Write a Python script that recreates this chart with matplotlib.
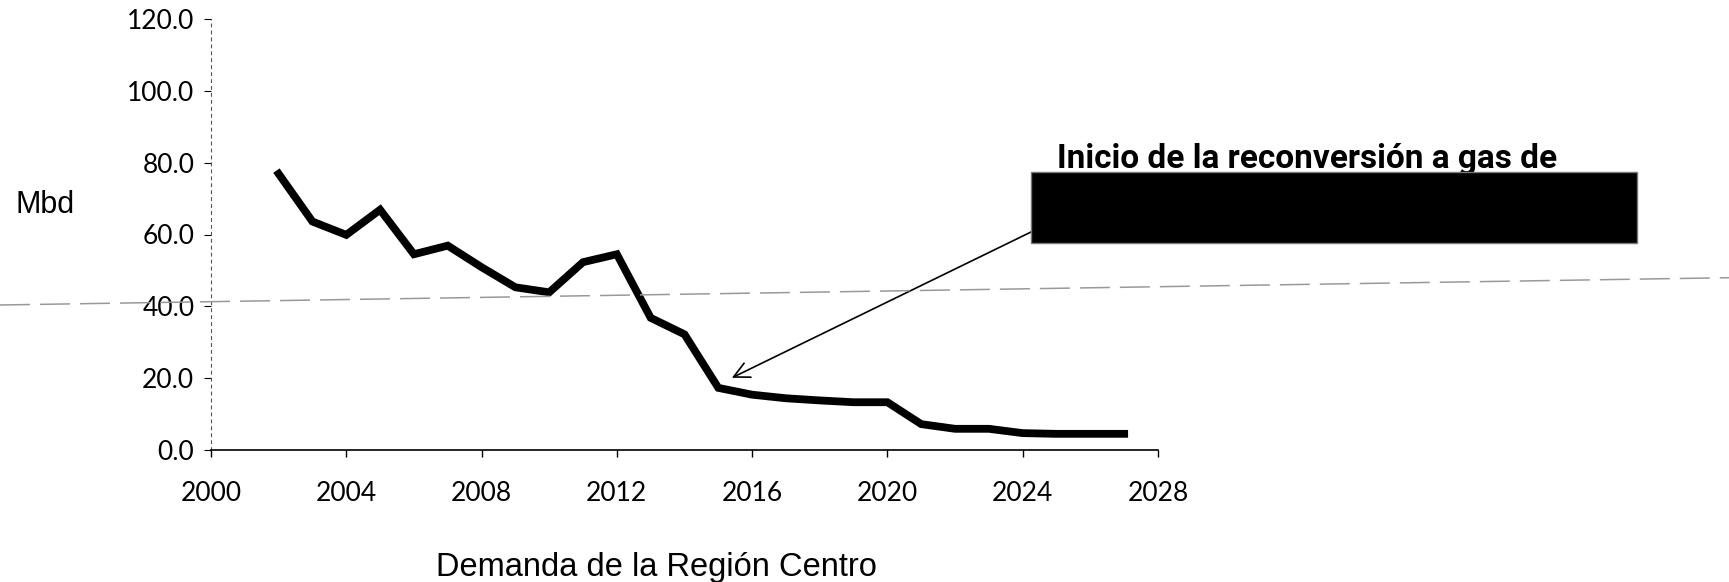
import matplotlib.pyplot as plt
from matplotlib.lines import Line2D
from matplotlib.patches import Rectangle
from matplotlib.ticker import FormatStrFormatter

plt.rcParams['lines.scale_dashes'] = False

# Demanda anual (Mbd)
years = list(range(2002, 2028))
demand = [76.9, 63.6, 59.9, 66.9, 54.5, 56.9, 50.9, 45.3, 43.9, 52.3,
          54.5, 36.8, 32.2, 17.3, 15.4, 14.4, 13.8, 13.3, 13.3, 7.2,
          5.9, 5.9, 4.7, 4.5, 4.5, 4.5]

x_ticks = list(range(2000, 2029, 4))
y_ticks = [0, 20, 40, 60, 80, 100, 120]

arrow_target = (2015.4, 20.1)
note_text = "Inicio de la reconversión a gas de"
y_label = "Mbd"
x_title = "Demanda de la Región Centro"

W, H = 1729, 582
fig = plt.figure(figsize=(W / 100, H / 100), dpi=100)
ax = fig.add_axes([211 / W, 1 - 450 / H, (1158 - 211) / W, (450 - 19) / H])

ax.plot(years, demand, color='black', lw=5.6, solid_joinstyle='miter')

ax.set_xlim(2000, 2028)
ax.set_ylim(0, 120)
ax.set_xticks(x_ticks)
ax.set_yticks(y_ticks)
ax.yaxis.set_major_formatter(FormatStrFormatter('%.1f'))

for s in ['top', 'right']:
    ax.spines[s].set_visible(False)
ax.spines['bottom'].set_linewidth(1.2)
ax.spines['left'].set_linewidth(0.8)
ax.spines['left'].set_color('#555555')
ax.spines['left'].set_linestyle((0, (2, 3)))

ax.tick_params(axis='x', length=5, width=1, pad=17, direction='out')
ax.tick_params(axis='y', length=5, width=0.8, pad=7, direction='out')
for lab in ax.get_xticklabels() + ax.get_yticklabels():
    lab.set_fontfamily(['Lato', 'DejaVu Sans'])
    lab.set_fontsize(19)

# eje Y y título inferior
fig.text(15 / W, 1 - 213 / H, y_label, fontsize=22,
         family=['Liberation Sans', 'DejaVu Sans'], va='baseline', ha='left')
fig.text(656 / W, 1 - 576 / H, x_title, fontsize=23.5,
         family=['Liberation Sans', 'DejaVu Sans'], va='baseline', ha='center')

# línea punteada que cruza toda la figura
fig.add_artist(Line2D([0, 1], [1 - 305 / H, 1 - 277.7 / H], transform=fig.transFigure,
                      color='#999999', lw=1.1, dashes=(21.6, 7.2), zorder=1))

# nota con flecha
fig.text(1057 / W, 1 - 168 / H, note_text, fontsize=24, fontweight='bold',
         family=['Roboto', 'Liberation Sans', 'DejaVu Sans'],
         va='baseline', ha='left', zorder=4)
fig.add_artist(Rectangle((1031 / W, 1 - 243 / H), (1637 - 1031) / W, (243 - 172) / H,
                         transform=fig.transFigure, facecolor='black',
                         edgecolor='#777777', lw=1, zorder=5))
ax.annotate('', xy=arrow_target, xycoords='data',
            xytext=(1031, H - 232), textcoords='figure pixels',
            arrowprops=dict(arrowstyle='->', color='black', lw=1.2,
                            mutation_scale=28, shrinkA=0, shrinkB=0),
            annotation_clip=False)

fig.savefig('out.png', dpi=100)
